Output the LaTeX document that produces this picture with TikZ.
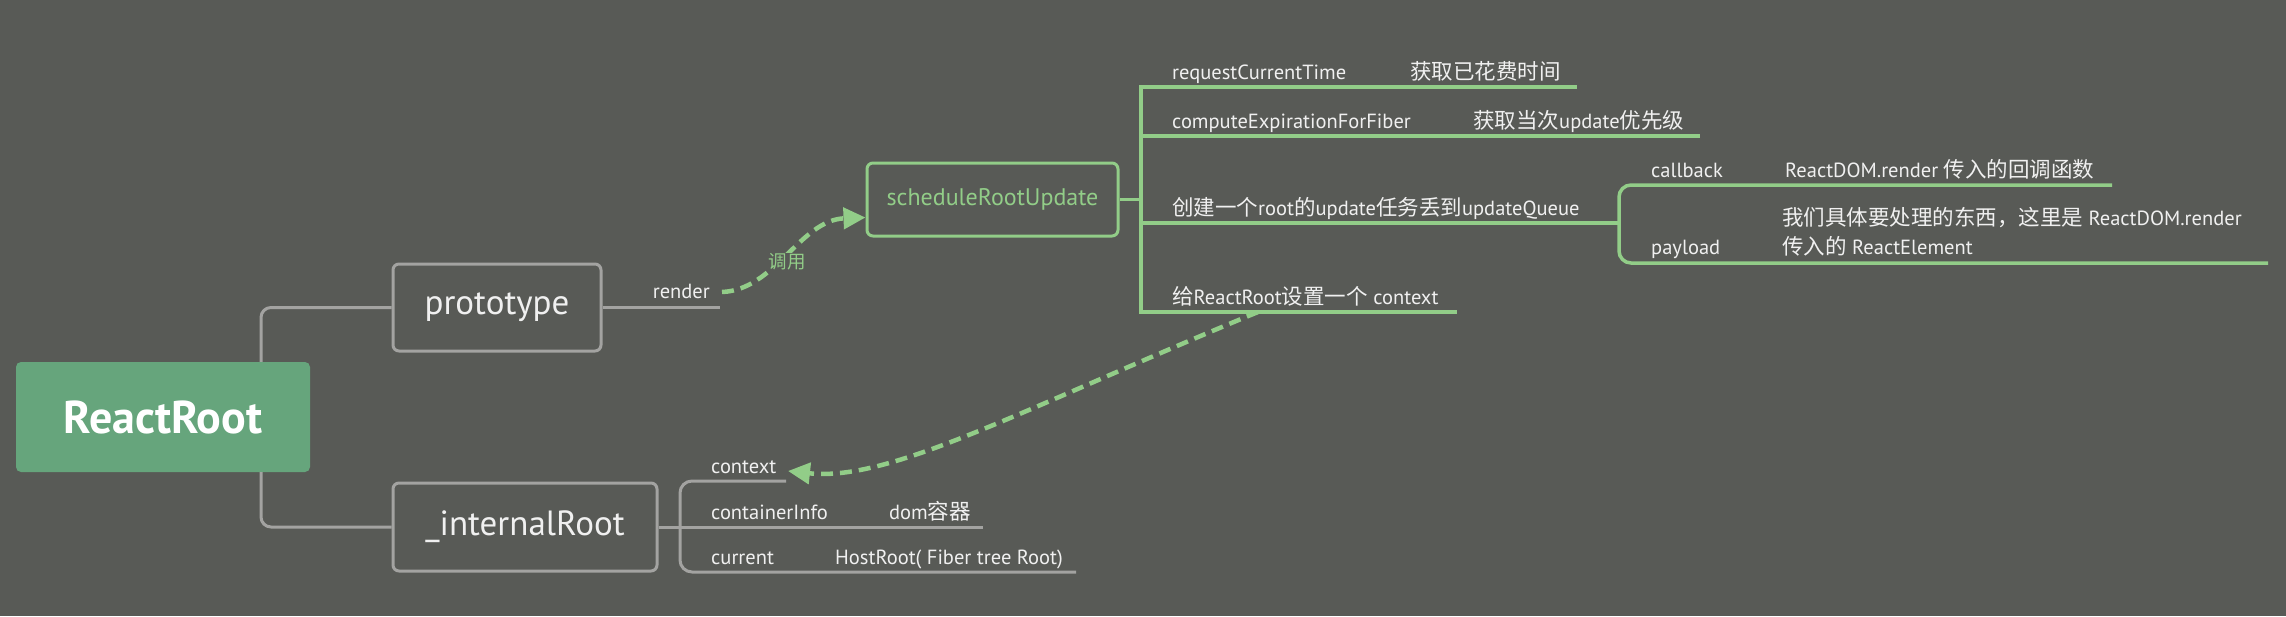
\documentclass[tikz,border=0pt]{standalone}
\usepackage{fontspec}
\setmainfont{PT Sans}
\newfontfamily\cjk{Noto Sans CJK SC}
\newcommand\zh[1]{{\cjk\fontsize{21.5}{24}\selectfont #1}}
\usetikzlibrary{arrows.meta}
\definecolor{bgc}{HTML}{585A56}
\definecolor{grayc}{HTML}{A3A3A1}
\definecolor{greenc}{HTML}{92CD88}
\definecolor{rootc}{HTML}{66A57C}
\definecolor{txtc}{HTML}{F0F0F0}
\tikzset{
	grayline/.style={draw=grayc, line width=3pt},
	greenline/.style={draw=greenc, line width=3.5pt},
	graybox/.style={draw=grayc, line width=3pt, rounded corners=6pt, text=txtc, inner sep=0pt, font=\fontsize{35}{40}\selectfont},
	lbl/.style={anchor=base west, text=txtc, inner sep=0pt, font=\fontsize{20.5}{24}\selectfont},
	calls/.style={draw=greenc, line width=4.5pt, dash pattern=on 12pt off 7pt, -{Triangle[length=22pt,width=21pt]}}
}
\begin{document}
\begin{tikzpicture}[x=1pt, y=-1pt]
	\fill[bgc] (0,0) rectangle (2286,616);
	% main boxes
	\node[fill=rootc, rounded corners=5pt, minimum width=294pt, minimum height=110pt, text=white, font=\bfseries\fontsize{46}{50}\selectfont] (root) at (163,417) {ReactRoot};
	\node[graybox, minimum width=208pt, minimum height=87pt] (proto) at (497,307.5) {prototype};
	\node[graybox, minimum width=264pt, minimum height=88pt] (internal) at (525,527) {\_internalRoot};
	\node[draw=greenc, line width=3pt, rounded corners=6pt, text=greenc, minimum width=251pt, minimum height=73pt, font=\fontsize{24}{28}\selectfont] (sched) at (992.5,199.5) {scheduleRootUpdate};
	\draw[grayline, rounded corners=10pt] ([xshift=98pt]root.north) |- (proto.west);
	\draw[grayline, rounded corners=10pt] ([xshift=98pt]root.south) |- (internal.west);
	% render
	\coordinate (renderEnd) at (720,307.5);
	\node[lbl, anchor=base east] (render) at (710,298) {render};
	\draw[grayline] (proto.east) -- (renderEnd);
	\coordinate (renderTip) at (722,292);
	\draw[calls] (renderTip) .. controls (775,290) and (800,220) .. ([yshift=-18pt]sched.west);
	\node[fill=bgc, text=greenc, inner sep=1pt, font=\cjk\fontsize{18.5}{20}\selectfont] (callLbl) at (787,262) {调用};
	% scheduleRootUpdate branches
	\coordinate (fork) at (1141,199.5);
	\coordinate (reqEnd) at (1577,87);
	\coordinate (cmpEnd) at (1700,136);
	\coordinate (updEnd) at (1619,223);
	\coordinate (ctxEnd) at (1457,312);
	\draw[greenline] (sched.east) -- (fork);
	\draw[greenline] (reqEnd) -- (fork |- reqEnd) -- (fork |- ctxEnd) -- (ctxEnd);
	\draw[greenline] (fork |- cmpEnd) -- (cmpEnd);
	\draw[greenline] (fork |- updEnd) -- (updEnd);
	\node[lbl] (req) at (1172,79) {requestCurrentTime};
	\node[lbl] (reqNote) at (1410,79) {\zh{获取已花费时间}};
	\node[lbl] (cmp) at (1172,128) {computeExpirationForFiber};
	\node[lbl] (cmpNote) at (1473,128) {\zh{获取当次}update\zh{优先级}};
	\node[lbl] (upd) at (1172,215) {\zh{创建一个}root\zh{的}update\zh{任务丢到}updateQueue};
	\node[lbl] (ctxSet) at (1172,304) {\zh{给}ReactRoot\zh{设置一个} context};
	% update fields
	\coordinate (cbEnd) at (2112,185);
	\coordinate (plEnd) at (2268,263);
	\draw[greenline, rounded corners=12pt] (cbEnd) -- (updEnd |- cbEnd) -- (updEnd |- plEnd) -- (plEnd);
	\node[lbl] (cb) at (1651,177) {callback};
	\node[lbl] (cbNote) at (1785,177) {ReactDOM.render \zh{传入的回调函数}};
	\node[lbl] (pl) at (1651,254) {payload};
	\node[lbl] (plNote) at (1782,225) {\zh{我们具体要处理的东西，这里是} ReactDOM.render};
	\node[lbl] (plNote2) at (1782,254) {\zh{传入的} ReactElement};
	% internal root fields
	\coordinate (irFork) at (680,527);
	\coordinate (ctxFieldEnd) at (786,481);
	\coordinate (ciEnd) at (983,527);
	\coordinate (curEnd) at (1076,572);
	\draw[grayline] (internal.east) -- (ciEnd);
	\draw[grayline, rounded corners=12pt] (ctxFieldEnd) -- (irFork |- ctxFieldEnd) -- (irFork |- curEnd) -- (curEnd);
	\node[lbl] (ctxField) at (711,473) {context};
	\node[lbl] (ci) at (711,519) {containerInfo};
	\node[lbl] (ciNote) at (889,519) {dom\zh{容器}};
	\node[lbl] (cur) at (711,564) {current};
	\node[lbl] (curNote) at (835,564) {HostRoot( Fiber tree Root)};
	\coordinate (ctxStart) at (1258,312);
	\draw[calls] (ctxStart) .. controls (1020,410) and (890,482) .. ([xshift=2pt]ctxFieldEnd |- 0,471);
\end{tikzpicture}
\end{document}
